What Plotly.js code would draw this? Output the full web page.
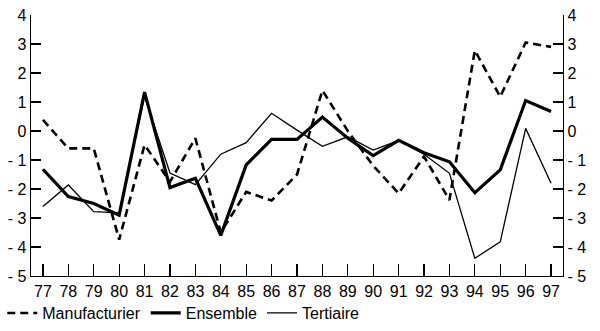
<!DOCTYPE html>
<html>
<head>
<meta charset="utf-8">
<script src="https://cdn.plot.ly/plotly-3.0.1.min.js"></script>
<style>
html,body{margin:0;padding:0;background:#fff;}
#chart{width:600px;height:331px;}
</style>
</head>
<body>
<div id="chart"></div>
<script>
const years = [77,78,79,80,81,82,83,84,85,86,87,88,89,90,91,92,93,94,95,96,97];
const yearLabels = ["77","78","79","80","81","82","83","84","85","86","87","88","89","90","91","92","93","94","95","96","97"];
const manufacturier = [0.38,-0.6,-0.6,-3.75,-0.48,-1.75,-0.25,-3.5,-2.1,-2.4,-1.5,1.4,0.0,-1.2,-2.15,-0.88,-2.38,2.78,1.18,3.05,2.9];
const ensemble = [-1.32,-2.26,-2.5,-2.9,1.34,-1.95,-1.63,-3.6,-1.17,-0.29,-0.29,0.48,-0.25,-0.85,-0.32,-0.75,-1.06,-2.13,-1.34,1.05,0.67];
const tertiaire = [-2.6,-1.86,-2.78,-2.82,1.2,-1.45,-1.85,-0.8,-0.4,0.61,0.03,-0.53,-0.2,-0.66,-0.33,-0.8,-1.46,-4.39,-3.82,0.09,-1.8];
const yTicks = [4,3,2,1,0,-1,-2,-3,-4,-5];
const yTickLabels = ["4","3","2","1","0","- 1","- 2","- 3","- 4","- 5"];

const font = {family: "Liberation Sans, Arial, sans-serif", size: 16, color: "#000"};

const traces = [
  {x: years, y: manufacturier, name: "Manufacturier", mode: "lines",
   line: {color: "#000", width: 2.6, dash: "8px,5px"}},
  {x: years, y: ensemble, name: "Ensemble", mode: "lines",
   line: {color: "#000", width: 3.2}},
  {x: years, y: tertiaire, name: "Tertiaire", mode: "lines",
   line: {color: "#000", width: 1.3}},
  {x: years, y: ensemble, yaxis: "y2", mode: "lines", showlegend: false,
   hoverinfo: "skip", opacity: 0, line: {color: "rgba(0,0,0,0)", width: 0}}
];

const yBase = {
  range: [-5, 4], tickvals: yTicks, ticktext: yTickLabels,
  ticks: "inside", ticklen: 10, tickwidth: 1.3, tickcolor: "#000",
  showline: true, linecolor: "#000", linewidth: 1.3,
  showgrid: false, zeroline: false, tickfont: font, fixedrange: true,
  automargin: false
};

const layout = {
  width: 600, height: 331,
  margin: {l: 31, r: 37, t: 15, b: 55, autoexpand: false},
  paper_bgcolor: "#fff", plot_bgcolor: "#fff",
  font: font,
  showlegend: true,
  legend: {orientation: "h", x: -0.054, xanchor: "left", y: -0.142, yanchor: "middle",
           font: font, itemwidth: 30, tracegroupgap: 0, bgcolor: "rgba(0,0,0,0)"},
  xaxis: {
    range: [76.53, 97.47], tickvals: years, ticktext: yearLabels,
    ticks: "inside", ticklen: 12, tickwidth: 1.3, tickcolor: "#000",
    showline: true, linecolor: "#000", linewidth: 1.3,
    showgrid: false, zeroline: false, tickfont: font, fixedrange: true,
    automargin: false
  },
  yaxis: Object.assign({}, yBase, {side: "left"}),
  yaxis2: Object.assign({}, yBase, {side: "right", overlaying: "y"})
};

Plotly.newPlot("chart", traces, layout, {staticPlot: true, displayModeBar: false});
</script>
</body>
</html>
